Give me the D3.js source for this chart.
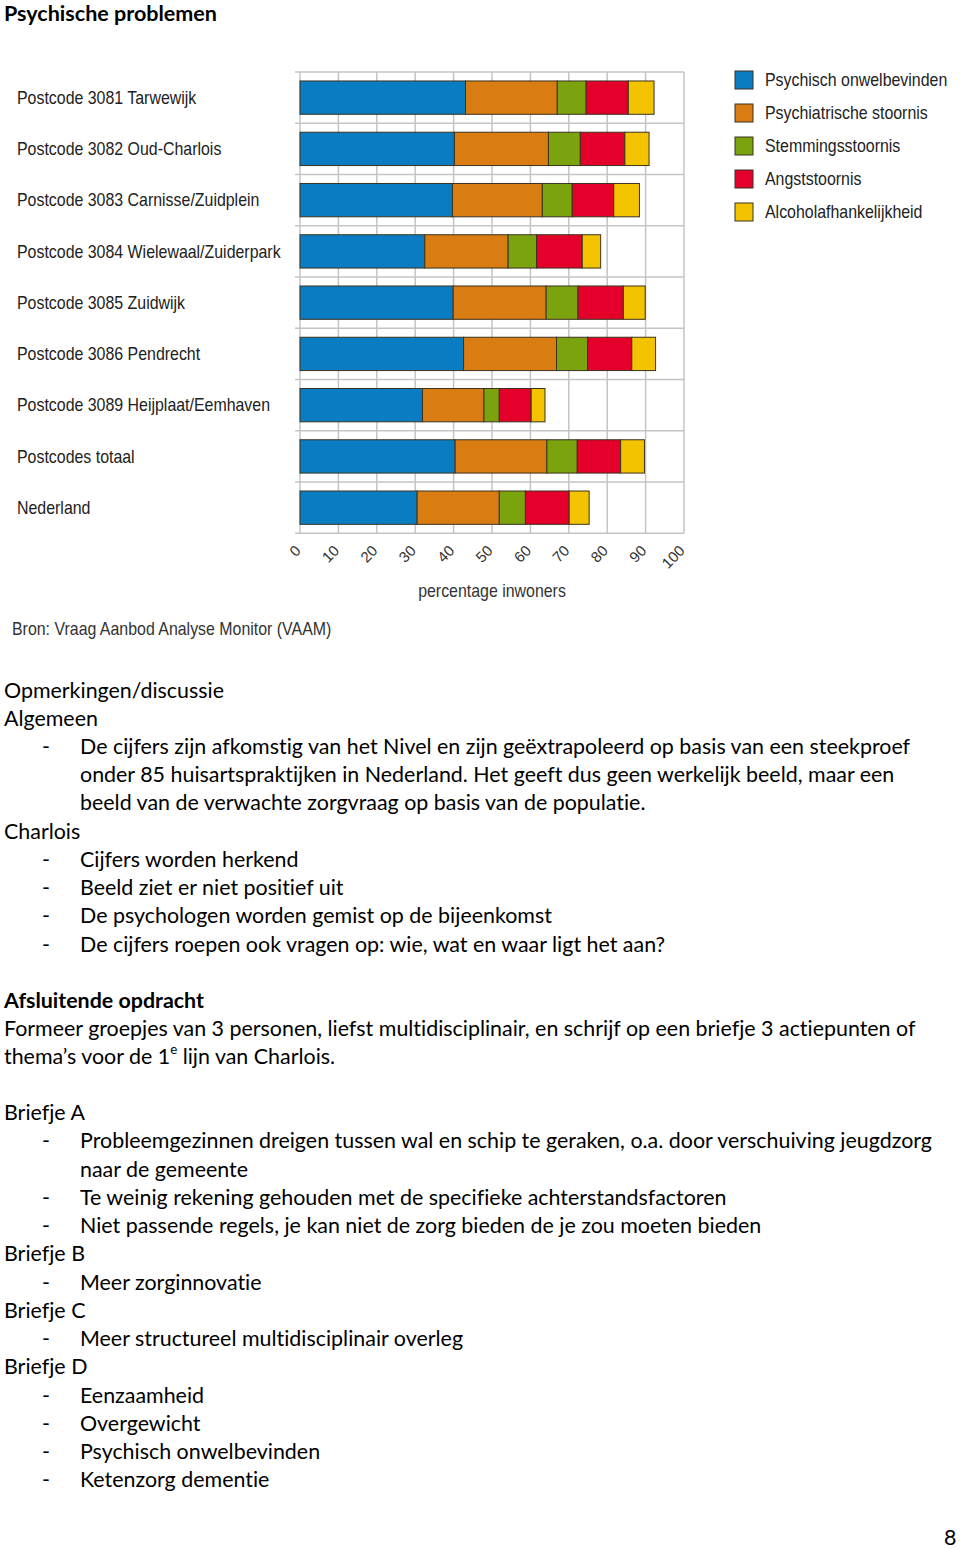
<!DOCTYPE html>
<html><head><meta charset="utf-8">
<script src="https://cdn.jsdelivr.net/npm/d3@7"></script>
<style>body{margin:0;background:#fff}svg{display:block}svg text{font-variant-ligatures:none;font-feature-settings:"liga" 0,"clig" 0}</style>
</head><body>
<script>
const categories = ["Postcode 3081 Tarwewijk","Postcode 3082 Oud-Charlois","Postcode 3083 Carnisse/Zuidplein","Postcode 3084 Wielewaal/Zuiderpark","Postcode 3085 Zuidwijk","Postcode 3086 Pendrecht","Postcode 3089 Heijplaat/Eemhaven","Postcodes totaal","Nederland"];
const seriesNames = ["Psychisch onwelbevinden","Psychiatrische stoornis","Stemmingsstoornis","Angststoornis","Alcoholafhankelijkheid"];
const psychisch   = [43.1, 40.2, 39.7, 32.5, 39.9, 42.6, 31.9, 40.4, 30.5];
const psychiatr   = [23.9, 24.5, 23.4, 21.7, 24.2, 24.2, 16.0, 23.9, 21.4];
const stemming    = [7.5, 8.3, 7.8, 7.4, 8.3, 8.1, 4.0, 7.9, 6.8];
const angst       = [11.0, 11.6, 10.8, 11.9, 11.8, 11.5, 8.3, 11.3, 11.4];
const alcohol     = [6.7, 6.3, 6.7, 4.8, 5.7, 6.2, 3.6, 6.2, 5.2];
const colors = ["#0a7cc1","#d97c12","#7aa30e","#e4002b","#f3c300"];
const xTicks = [0,10,20,30,40,50,60,70,80,90,100];

const seriesVals = [psychisch, psychiatr, stemming, angst, alcohol];
const rows = categories.map((c,i)=>{const o={cat:c}; seriesNames.forEach((s,j)=>o[s]=seriesVals[j][i]); return o;});
const stacked = d3.stack().keys(seriesNames)(rows);

const svg = d3.select("body").append("svg").attr("width",960).attr("height",1549);
svg.append("rect").attr("width",960).attr("height",1549).attr("fill","#fff");

const x = d3.scaleLinear().domain([0,100]).range([300,684]);
const y = d3.scaleBand().domain(categories).range([72,533.3]).paddingInner(0.35).paddingOuter(0.175);
const step = y.step();

const chartFont = "'Liberation Sans', Arial, sans-serif";
const SQ = 0.91; // horizontal condensing of chart text

// title
svg.append("text").attr("x",4).attr("y",21).attr("font-family","Lato, 'Open Sans', sans-serif").attr("font-weight","bold").attr("font-size",20.5)
  .attr("textLength",213).attr("lengthAdjust","spacingAndGlyphs").attr("fill","#000").text("Psychische problemen");

// grid
const g = svg.append("g");
g.selectAll("line.v").data(xTicks).join("line").attr("x1",d=>x(d)).attr("x2",d=>x(d)).attr("y1",72).attr("y2",533.3).attr("stroke","#c4c4c4").attr("stroke-width",1.5);
g.selectAll("line.h").data(d3.range(categories.length+1)).join("line").attr("x1",x(0)-5).attr("x2",x(100)).attr("y1",i=>y.range()[0]+i*step).attr("y2",i=>y.range()[0]+i*step).attr("stroke","#c4c4c4").attr("stroke-width",1.5);

// bars
svg.append("g").selectAll("g").data(stacked).join("g").attr("fill",(d,i)=>colors[i])
  .selectAll("rect").data(d=>d).join("rect")
  .attr("x",d=>x(d[0])).attr("width",d=>x(d[1])-x(d[0]))
  .attr("y",d=>y(d.data.cat)).attr("height",y.bandwidth())
  .attr("stroke","#3b3320").attr("stroke-width",1);

// category labels
svg.append("g").selectAll("text").data(categories).join("text")
  .attr("transform",d=>`translate(17,${y(d)+y.bandwidth()/2}) scale(${SQ},1)`).attr("dy","0.36em")
  .attr("font-family",chartFont).attr("font-size",17.5).attr("fill","#222").text(d=>d);

// x tick labels
svg.append("g").selectAll("text").data(xTicks).join("text")
  .attr("transform",d=>`translate(${x(d)-2},${548}) rotate(-45)`)
  .attr("text-anchor","end").attr("dy","0.35em")
  .attr("font-family",chartFont).attr("font-size",15).attr("fill","#333").text(d=>d);

svg.append("text").attr("transform",`translate(492,591) scale(${SQ},1)`).attr("dy","0.36em").attr("text-anchor","middle")
  .attr("font-family",chartFont).attr("font-size",17.5).attr("fill","#333").text("percentage inwoners");
svg.append("text").attr("transform",`translate(12,629) scale(${SQ},1)`).attr("dy","0.36em")
  .attr("font-family",chartFont).attr("font-size",17.5).attr("fill","#333").text("Bron: Vraag Aanbod Analyse Monitor (VAAM)");

// legend
const lg = svg.append("g").selectAll("g").data(seriesNames).join("g").attr("transform",(d,i)=>`translate(735,${71+i*33})`);
lg.append("rect").attr("width",18).attr("height",18).attr("fill",(d,i)=>colors[i]).attr("stroke","#3b3320").attr("stroke-width",1);
lg.append("text").attr("transform",`translate(30,9) scale(${SQ},1)`).attr("dy","0.36em").attr("font-family",chartFont).attr("font-size",17.5).attr("fill","#222").text(d=>d);

// body text
const bodyLines = [
 {y:691,x:4,t:"Opmerkingen/discussie"},
 {y:719,x:4,t:"Algemeen"},
 {y:747,x:80,t:"De cijfers zijn afkomstig van het Nivel en zijn geëxtrapoleerd op basis van een steekproef",b:1},
 {y:775,x:80,t:"onder 85 huisartspraktijken in Nederland. Het geeft dus geen werkelijk beeld, maar een"},
 {y:803,x:80,t:"beeld van de verwachte zorgvraag op basis van de populatie."},
 {y:832,x:4,t:"Charlois"},
 {y:860,x:80,t:"Cijfers worden herkend",b:1},
 {y:888,x:80,t:"Beeld ziet er niet positief uit",b:1},
 {y:916,x:80,t:"De psychologen worden gemist op de bijeenkomst",b:1},
 {y:945,x:80,t:"De cijfers roepen ook vragen op: wie, wat en waar ligt het aan?",b:1},
 {y:1001,x:4,t:"Afsluitende opdracht",bold:1},
 {y:1029,x:4,t:"Formeer groepjes van 3 personen, liefst multidisciplinair, en schrijf op een briefje 3 actiepunten of"},
 {y:1057,x:4,t:"thema’s voor de 1",sup:"e",after:" lijn van Charlois."},
 {y:1113,x:4,t:"Briefje A"},
 {y:1141,x:80,t:"Probleemgezinnen dreigen tussen wal en schip te geraken, o.a. door verschuiving jeugdzorg",b:1},
 {y:1170,x:80,t:"naar de gemeente"},
 {y:1198,x:80,t:"Te weinig rekening gehouden met de specifieke achterstandsfactoren",b:1},
 {y:1226,x:80,t:"Niet passende regels, je kan niet de zorg bieden de je zou moeten bieden",b:1},
 {y:1254,x:4,t:"Briefje B"},
 {y:1283,x:80,t:"Meer zorginnovatie",b:1},
 {y:1311,x:4,t:"Briefje C"},
 {y:1339,x:80,t:"Meer structureel multidisciplinair overleg",b:1},
 {y:1367,x:4,t:"Briefje D"},
 {y:1396,x:80,t:"Eenzaamheid",b:1},
 {y:1424,x:80,t:"Overgewicht",b:1},
 {y:1452,x:80,t:"Psychisch onwelbevinden",b:1},
 {y:1480,x:80,t:"Ketenzorg dementie",b:1}
];
const bodyFont = "Lato, 'Open Sans', sans-serif";
const probe = svg.append("text").attr("font-family",bodyFont).attr("font-size",20).text(bodyLines[2].t);
const bfs = 20*831/probe.node().getComputedTextLength();
probe.remove();
const bg = svg.append("g").attr("font-family",bodyFont).attr("font-size",bfs).attr("fill","#000");
bodyLines.forEach(l=>{
  const t = bg.append("text").attr("x",l.x).attr("y",l.y).attr("dy","0.34em");
  if(l.bold) t.attr("font-weight","bold");
  t.append("tspan").text(l.t);
  if(l.sup){ t.append("tspan").attr("font-size",bfs*0.62).attr("dy","-0.75em").text(l.sup);
             t.append("tspan").attr("dy","0.47em").text(l.after); }
  if(l.b) bg.append("text").attr("x",42).attr("y",l.y).attr("dy","0.34em").text("-");
});
bg.append("text").attr("x",944).attr("y",1538).attr("dy","0.34em").text("8");
</script>
</body></html>
